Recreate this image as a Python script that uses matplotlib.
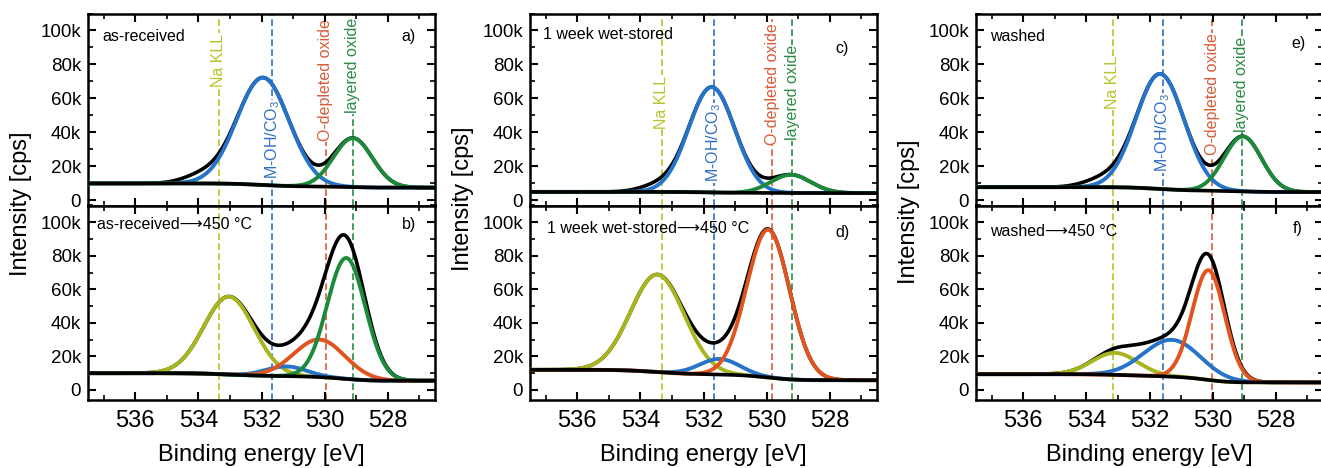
import numpy as np
import matplotlib.pyplot as plt
from matplotlib.ticker import MultipleLocator, FuncFormatter

plt.rcParams['font.family'] = ['Liberation Sans', 'DejaVu Sans']
plt.rcParams['mathtext.default'] = 'regular'

# --- data -------------------------------------------------------------
e_min, e_max = 526.5, 537.5

# fitted components per panel: (component, centre [eV], height [cps], FWHM [eV])
comp_a = [("moh", 531.95, 63200, 1.95), ("layer", 529.10, 28800, 1.45)]
comp_b = [("na", 533.03, 46400, 1.88), ("moh", 531.21, 5800, 1.5),
          ("odep", 530.16, 22400, 1.9), ("layer", 529.31, 72100, 1.42)]
comp_c = [("moh", 531.74, 62000, 1.72), ("layer", 529.23, 10700, 1.5)]
comp_d = [("na", 533.46, 58100, 2.0), ("moh", 531.49, 9300, 1.5),
          ("odep", 529.95, 88100, 1.6)]
comp_e = [("moh", 531.66, 67700, 1.8), ("layer", 529.04, 32300, 1.4)]
comp_f = [("na", 533.09, 13100, 1.7), ("moh", 531.29, 22000, 2.1),
          ("odep", 530.13, 65400, 1.22)]

# signal left over by the fit, seen only in the measured trace
resid_a = [(533.9, 4200, 1.4)]
resid_c = [(533.5, 3200, 1.3)]
resid_e = [(533.5, 4200, 1.4)]

# Shirley background levels (high-BE side, low-BE side) [cps]
bg_a = (10000, 7500)
bg_b = (10000, 5500)
bg_c = (5000, 4300)
bg_d = (12000, 5800)
bg_e = (7800, 4900)
bg_f = (9400, 4500)

arrow = "\u27f6"
titles = ["as-received", "as-received" + arrow + "450 \u00b0C",
          "1 week wet-stored", "1 week wet-stored" + arrow + "450 \u00b0C",
          "washed", "washed" + arrow + "450 \u00b0C"]
panel_ids = ["a)", "b)", "c)", "d)", "e)", "f)"]

# reference binding energies marked in each column [eV]
ref_a = {"na": 533.35, "moh": 531.66, "odep": 529.97, "layer": 529.10}
ref_c = {"na": 533.33, "moh": 531.67, "odep": 529.82, "layer": 529.18}
ref_e = {"na": 533.17, "moh": 531.58, "odep": 530.01, "layer": 529.07}

# height of the rotated labels in the top panels [cps]
label_y_a = {"na": 82400, "moh": 35700, "odep": 70800, "layer": 79500}
label_y_c = {"na": 57800, "moh": 33900, "odep": 68600, "layer": 63300}
label_y_e = {"na": 69200, "moh": 39700, "odep": 62300, "layer": 68500}

names = {"na": "Na KLL", "moh": "M-OH/CO$_3$",
         "odep": "O-depleted oxide", "layer": "layered oxide"}
fit_col = {"na": "#a7b61e", "moh": "#2574c9", "odep": "#e1531f", "layer": "#1c8a3b"}
ref_col = {"na": "#b8c42a", "moh": "#2f6fc4", "odep": "#d85c38", "layer": "#2a8b47"}

# --- layout -----------------------------------------------------------
W, H = 1321, 468
col_left = [88, 530, 976]
col_w = 347
top_y, mid_y, bot_y = 13.5, 205.5, 400

fig = plt.figure(figsize=(W / 100, H / 100), dpi=100)


def gauss(e, c, h, w):
    return h * np.exp(-4 * np.log(2) * (e - c) ** 2 / w ** 2)


def style(ax, ylim, show_x):
    ax.set_xlim(e_max, e_min)
    ax.set_ylim(*ylim)
    ax.xaxis.set_major_locator(MultipleLocator(2))
    ax.xaxis.set_minor_locator(MultipleLocator(1))
    ax.yaxis.set_major_locator(MultipleLocator(20000))
    ax.yaxis.set_minor_locator(MultipleLocator(10000))
    ax.yaxis.set_major_formatter(FuncFormatter(
        lambda v, p: "0" if abs(v) < 1 else f"{int(round(v / 1000))}k"))
    ax.tick_params(which='both', direction='in', top=True, right=True)
    ax.tick_params(which='major', length=6, width=1.5)
    ax.tick_params(which='minor', length=3.5, width=1.2)
    ax.tick_params(axis='y', labelsize=13.5, pad=5)
    ax.tick_params(axis='x', labelsize=17, pad=7, labelbottom=show_x)
    for s in ax.spines.values():
        s.set_linewidth(1.8)


def draw(ax, comps, bg, refs, title, pid, id_pos, title_pos,
         label_y=None, resid=()):
    e = np.linspace(e_min, e_max, 800)
    parts = [(k, gauss(e, c, h, w)) for k, c, h, w in comps]
    peak_sum = sum(p for _, p in parts)
    area = np.cumsum(peak_sum)
    background = bg[1] + (bg[0] - bg[1]) * area / area[-1]
    measured = background + peak_sum
    for c, h, w in resid:
        measured = measured + gauss(e, c, h, w)

    for k, x in refs.items():
        ax.axvline(x, color=ref_col[k], lw=1.2, ls=(0, (4, 2)), zorder=1)
        if label_y is not None:
            ax.text(x, label_y[k], names[k], rotation=90, color=ref_col[k],
                    fontsize=11.5, ha='center', va='center', zorder=1.5,
                    bbox=dict(facecolor='white', edgecolor='none', pad=0.5))

    ax.plot(e, measured, color='black', lw=2.6, zorder=3)
    for k, p in parts:
        ax.plot(e, background + p, color=fit_col[k], lw=2.8, zorder=4)
    ax.plot(e, background, color='black', lw=2.6, zorder=5)

    ax.text(title_pos[0], title_pos[1], title, transform=ax.transAxes,
            fontsize=11.5, ha='left', va='center')
    ax.text(id_pos[0], id_pos[1], pid, transform=ax.transAxes,
            fontsize=11.5, ha='right', va='center')


columns = [
    (comp_a, bg_a, resid_a, comp_b, bg_b, ref_a, label_y_a),
    (comp_c, bg_c, resid_c, comp_d, bg_d, ref_c, label_y_c),
    (comp_e, bg_e, resid_e, comp_f, bg_f, ref_e, label_y_e),
]
title_pos = [(0.04, 0.88), (0.025, 0.90), (0.038, 0.89),
             (0.048, 0.88), (0.04, 0.88), (0.04, 0.865)]
id_pos = [(0.945, 0.88), (0.945, 0.90), (0.918, 0.82),
          (0.92, 0.86), (0.95, 0.845), (0.94, 0.88)]
ylab_y = [203.5, 198.5, 211.5]

for i, (ct, bt, rt, cb, bb, refs, lab_y) in enumerate(columns):
    l = col_left[i] / W
    ax_top = fig.add_axes([l, 1 - mid_y / H, col_w / W, (mid_y - top_y) / H])
    ax_bot = fig.add_axes([l, 1 - bot_y / H, col_w / W, (bot_y - mid_y) / H])
    style(ax_top, (-3000, 110000), False)
    style(ax_bot, (-6000, 110000), True)
    draw(ax_top, ct, bt, refs, titles[2 * i], panel_ids[2 * i],
         id_pos[2 * i], title_pos[2 * i], lab_y, rt)
    draw(ax_bot, cb, bb, refs, titles[2 * i + 1], panel_ids[2 * i + 1],
         id_pos[2 * i + 1], title_pos[2 * i + 1])

    fig.text((col_left[i] + col_w / 2) / W, 1 - 455 / H, "Binding energy [eV]",
             fontsize=17, ha='center', va='center')
    fig.text((col_left[i] - 67) / W, 1 - ylab_y[i] / H, "Intensity [cps]",
             fontsize=17, rotation=90, ha='center', va='center')

fig.savefig("out.png", dpi=100)
